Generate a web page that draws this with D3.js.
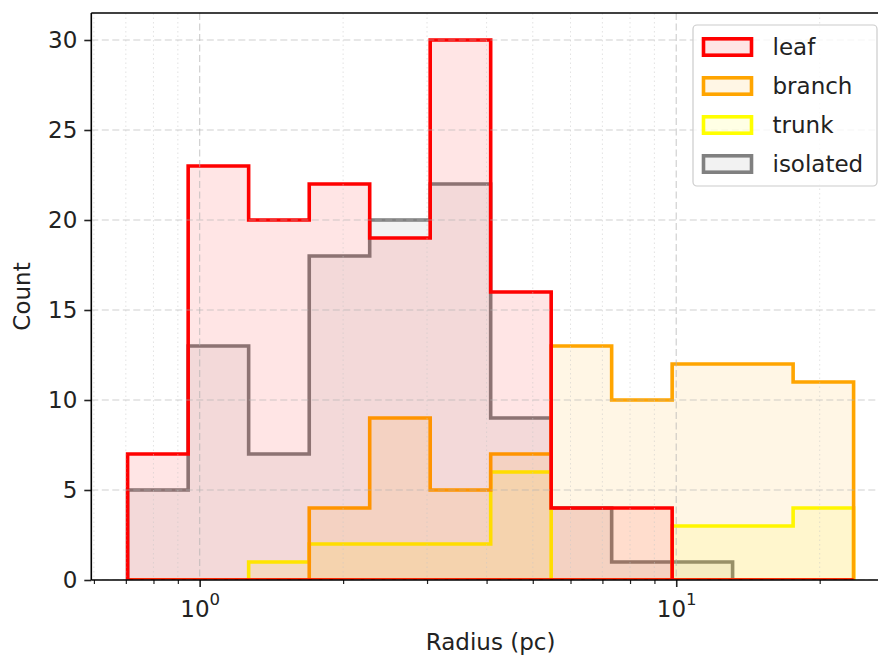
<!DOCTYPE html>
<html><head><meta charset="utf-8">
<script src="https://cdn.jsdelivr.net/npm/d3@7"></script>
<style>body{margin:0;background:#fff} text{font-family:"DejaVu Sans",sans-serif;fill:#222}</style>
</head><body><svg id="c" width="878" height="660" style="display:block;background:#fff"></svg>
<script>
// ---- data ----
const binEdges = [0.706, 0.946, 1.267, 1.698, 2.274, 3.046, 4.080, 5.465, 7.320, 9.805, 13.13, 17.59, 23.56];
const leaf     = [7, 23, 20, 22, 19, 30, 16, 4, 4, 0, 0, 0];
const branch   = [0, 0, 0, 4, 9, 5, 7, 13, 10, 12, 12, 11];
const trunk    = [0, 0, 1, 2, 2, 2, 6, 0, 0, 3, 3, 4];
const isolated = [5, 13, 7, 18, 20, 22, 9, 4, 1, 1, 0, 0];
const seriesNames  = ["leaf", "branch", "trunk", "isolated"];
const seriesColors = ["#ff0000", "#ffa500", "#ffff00", "#808080"];
const yTicks = [0, 5, 10, 15, 20, 25, 30];
const xMajorTicks = [1, 10];
const xMinorTicks = [0.6, 0.7, 0.8, 0.9, 2, 3, 4, 5, 6, 7, 8, 9, 20];
const xLabel = "Radius (pc)";
const yLabel = "Count";

// ---- layout ----
const svg = d3.select("#c");
const L = 91.3, R = 889.9, T = 13, B = 580;
const FS = 23;
const series = [leaf, branch, trunk, isolated];

const lo = Math.log10(binEdges[0]), hi = Math.log10(binEdges[binEdges.length - 1]);
const pad = 0.05 * (hi - lo);
const x = d3.scaleLog().domain([Math.pow(10, lo - pad), Math.pow(10, hi + pad)]).range([L, R]);
const yMax = d3.max(series.flat()) * 1.05;
const y = d3.scaleLinear().domain([0, yMax]).range([B, T]);

const clip = svg.append("defs").append("clipPath").attr("id", "pa")
  .append("rect").attr("x", L).attr("y", T).attr("width", R - L).attr("height", B - T);

const plot = svg.append("g").attr("clip-path", "url(#pa)");

function stepPoints(vals) {
  const pts = [[binEdges[0], 0]];
  vals.forEach((v, i) => { pts.push([binEdges[i], v]); pts.push([binEdges[i + 1], v]); });
  pts.push([binEdges[binEdges.length - 1], 0]);
  return pts;
}
const line = d3.line().x(d => x(d[0])).y(d => y(d[1]));

// draw in reverse order so the first series ends on top
for (let k = series.length - 1; k >= 0; k--) {
  plot.append("path")
    .attr("d", line(stepPoints(series[k])) + "Z")
    .attr("fill", seriesColors[k]).attr("fill-opacity", 0.1)
    .attr("stroke", seriesColors[k]).attr("stroke-width", 3.6)
    .attr("stroke-linejoin", "miter");
}

// grid (above patches, like matplotlib)
const grid = svg.append("g").attr("clip-path", "url(#pa)");
grid.selectAll(".hg").data(yTicks).enter().append("line")
  .attr("x1", L).attr("x2", R).attr("y1", d => y(d)).attr("y2", d => y(d))
  .attr("stroke", "#b0b0b0").attr("stroke-opacity", 0.6).attr("stroke-width", 1.2).attr("stroke-dasharray", "7,3.5");
grid.selectAll(".vg").data(xMajorTicks).enter().append("line")
  .attr("y1", T).attr("y2", B).attr("x1", d => x(d)).attr("x2", d => x(d))
  .attr("stroke", "#b0b0b0").attr("stroke-opacity", 0.6).attr("stroke-width", 1.2).attr("stroke-dasharray", "7,3.5");
grid.selectAll(".vm").data(xMinorTicks).enter().append("line")
  .attr("y1", T).attr("y2", B).attr("x1", d => x(d)).attr("x2", d => x(d))
  .attr("stroke", "#c8c8c8").attr("stroke-opacity", 0.5).attr("stroke-width", 1).attr("stroke-dasharray", "1.5,3");

// axes
const yAxis = svg.append("g").attr("transform", `translate(${L},0)`)
  .call(d3.axisLeft(y).tickValues(yTicks).tickSize(7).tickPadding(7).tickFormat(d3.format("d")));
yAxis.select(".domain").remove();
yAxis.selectAll("text").style("font-size", FS + "px").attr("fill", "#222");
yAxis.selectAll("line").attr("stroke", "#222").attr("stroke-width", 1.6);

const xAxis = svg.append("g").attr("transform", `translate(0,${B})`)
  .call(d3.axisBottom(x).tickValues(xMajorTicks).tickSize(7).tickPadding(6).tickFormat(() => ""));
xAxis.select(".domain").remove();
xAxis.selectAll("line").attr("stroke", "#222").attr("stroke-width", 1.6);
xAxis.selectAll(".tick text").each(function (d) {
  const t = d3.select(this).text(null).style("font-size", FS + "px").attr("dy", "1.05em");
  t.append("tspan").text("10");
  t.append("tspan").text(String(Math.round(Math.log10(d)))).style("font-size", (FS * 0.72) + "px").attr("dy", "-0.75em");
});
const xMinor = svg.append("g").attr("transform", `translate(0,${B})`)
  .call(d3.axisBottom(x).tickValues(xMinorTicks.filter(v => x(v) <= 878)).tickSize(4).tickFormat(() => ""));
xMinor.select(".domain").remove();
xMinor.selectAll("line").attr("stroke", "#222").attr("stroke-width", 1.2);

// spines
svg.append("line").attr("x1", L).attr("x2", R).attr("y1", B).attr("y2", B).attr("stroke", "#000").attr("stroke-width", 1.6);
svg.append("line").attr("x1", L).attr("x2", R).attr("y1", T).attr("y2", T).attr("stroke", "#000").attr("stroke-width", 1.6);
svg.append("line").attr("x1", L).attr("x2", L).attr("y1", T).attr("y2", B).attr("stroke", "#000").attr("stroke-width", 1.6);

// axis labels
svg.append("text").attr("x", (L + R) / 2).attr("y", 650).attr("text-anchor", "middle")
  .style("font-size", FS + "px").text(xLabel);
svg.append("text").attr("transform", `translate(30,${(T + B) / 2}) rotate(-90)`).attr("text-anchor", "middle")
  .style("font-size", FS + "px").text(yLabel);

// legend
const lg = svg.append("g");
lg.append("rect").attr("x", 693).attr("y", 25).attr("width", 184).attr("height", 161).attr("rx", 4)
  .attr("fill", "#fff").attr("fill-opacity", 0.8).attr("stroke", "#cccccc").attr("stroke-width", 1.2);
seriesNames.forEach((name, i) => {
  const cy = 47 + i * 39;
  lg.append("rect").attr("x", 703.5).attr("y", cy - 8.2).attr("width", 48).attr("height", 16.4)
    .attr("fill", seriesColors[i]).attr("fill-opacity", 0.1)
    .attr("stroke", seriesColors[i]).attr("stroke-width", 3.6);
  lg.append("text").attr("x", 772.5).attr("y", cy).attr("dy", "0.36em")
    .style("font-size", FS + "px").text(name);
});
</script></body></html>
